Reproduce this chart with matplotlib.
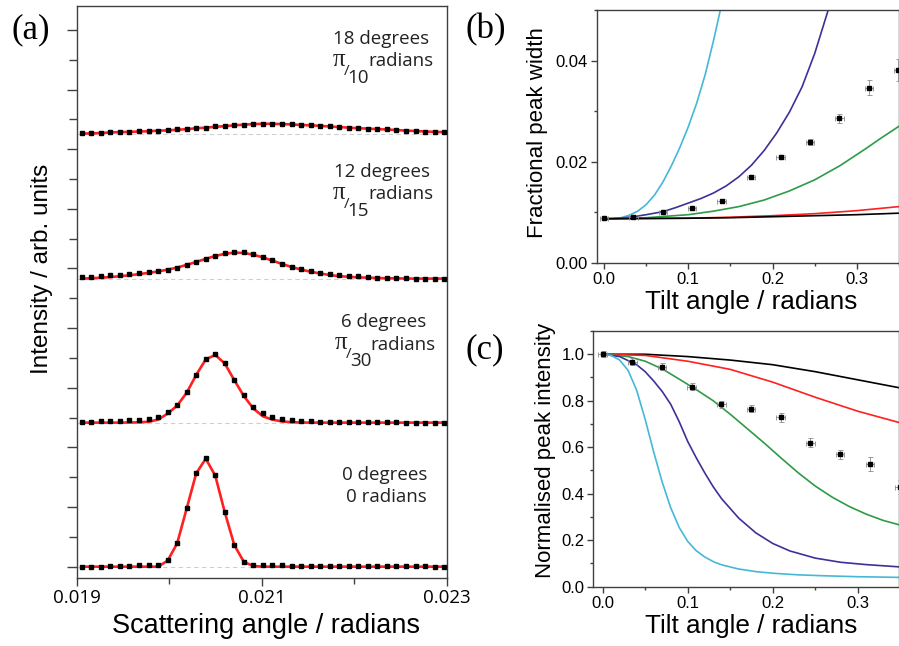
import numpy as np
import matplotlib
matplotlib.use("Agg")
import matplotlib.pyplot as plt
from matplotlib.ticker import MultipleLocator

plt.rcParams['font.family'] = ['Liberation Sans', 'DejaVu Sans']

W, H = 899, 646

# ---- panel (a): peak profiles, scattering angle in radians ----
theta = np.linspace(0.019055, 0.022969, 39)
offsets = [0.0, 4.83, 9.66, 14.51]

deg0_pts = [0.0, 0.0, 0.0, 0.01, 0.01, 0.02, 0.04, 0.05, 0.05,
            0.21, 0.79, 1.96, 3.15, 3.64, 3.06, 1.83, 0.72, 0.17, 0.06,
            0.04, 0.04, 0.04, 0.03, 0.03, 0.03, 0.03, 0.02, 0.02, 0.02,
            0.02, 0.02, 0.01, 0.01, 0.01, 0.01, 0.01, 0.01, 0.0, 0.0]
deg0_fit = [0.0, 0.0, 0.0, 0.0, 0.0, 0.0, 0.0, 0.0, 0.0,
            0.20, 0.78, 1.95, 3.13, 3.62, 3.05, 1.82, 0.72, 0.16, 0.02,
            0.0, 0.0, 0.0, 0.0, 0.0, 0.0, 0.0, 0.0, 0.0, 0.0,
            0.0, 0.0, 0.0, 0.0, 0.0, 0.0, 0.0, 0.0, 0.0, 0.0]

deg6_pts = [0.01, 0.03, 0.04, 0.05, 0.07, 0.08, 0.10, 0.12, 0.19, 0.37,
            0.59, 1.02, 1.61, 2.15, 2.29, 2.01, 1.44, 0.91, 0.53, 0.31,
            0.19, 0.11, 0.08, 0.06, 0.04, 0.03, 0.02, 0.02, 0.02, 0.01,
            0.01, 0.01, 0.01, 0.01, 0.0, 0.0, 0.0, 0.0, 0.0]
deg6_fit = [0.0, 0.0, 0.0, 0.0, 0.0, 0.005, 0.01, 0.03, 0.10, 0.30,
            0.57, 1.00, 1.60, 2.12, 2.27, 1.98, 1.42, 0.89, 0.47, 0.21,
            0.10, 0.04, 0.015, 0.005, 0.0, 0.0, 0.0, 0.0, 0.0, 0.0,
            0.0, 0.0, 0.0, 0.0, 0.0, 0.0, 0.0, 0.0, 0.0]

deg12_pts = [0.04, 0.06, 0.08, 0.11, 0.13, 0.17, 0.19, 0.21, 0.25, 0.29,
             0.37, 0.46, 0.56, 0.67, 0.77, 0.86, 0.89, 0.88, 0.83, 0.72,
             0.62, 0.48, 0.38, 0.32, 0.27, 0.19, 0.16, 0.12, 0.09, 0.07,
             0.04, 0.03, 0.02, 0.01, 0.01, 0.0, 0.0, 0.0, 0.0]
deg12_fit = [0.0, 0.01, 0.03, 0.05, 0.08, 0.11, 0.15, 0.19, 0.24, 0.30,
             0.37, 0.46, 0.56, 0.66, 0.76, 0.83, 0.87, 0.86, 0.80, 0.71,
             0.60, 0.49, 0.39, 0.30, 0.23, 0.17, 0.12, 0.08, 0.06, 0.04,
             0.03, 0.02, 0.01, 0.01, 0.0, 0.0, 0.0, 0.0, 0.0]

deg18_pts = [0.02, 0.03, 0.04, 0.06, 0.07, 0.08, 0.09, 0.10, 0.11, 0.12,
             0.15, 0.17, 0.19, 0.21, 0.25, 0.27, 0.29, 0.31, 0.34, 0.35,
             0.35, 0.34, 0.32, 0.31, 0.29, 0.27, 0.25, 0.23, 0.21, 0.20,
             0.18, 0.17, 0.15, 0.13, 0.11, 0.10, 0.08, 0.07, 0.05]
deg18_fit = [0.01, 0.02, 0.03, 0.05, 0.06, 0.07, 0.08, 0.09, 0.11, 0.12,
             0.14, 0.16, 0.19, 0.21, 0.24, 0.26, 0.29, 0.31, 0.33, 0.34,
             0.34, 0.33, 0.32, 0.30, 0.29, 0.27, 0.25, 0.23, 0.21, 0.19,
             0.18, 0.16, 0.15, 0.13, 0.11, 0.10, 0.08, 0.07, 0.06]

peaks_pts = [deg0_pts, deg6_pts, deg12_pts, deg18_pts]
peaks_fit = [deg0_fit, deg6_fit, deg12_fit, deg18_fit]

# ---- panels (b) and (c): measured points ----
tilt = [0.0, 0.0349, 0.0698, 0.1047, 0.1396, 0.1745, 0.2094, 0.2443, 0.2793, 0.3142, 0.3491]
tilt_err = [0.005] * 11
width = [0.00878, 0.0091, 0.0101, 0.01076, 0.01228, 0.0169, 0.02086, 0.02396, 0.02858, 0.03465, 0.03815]
width_err = [0.0003, 0.0003, 0.0003, 0.0003, 0.0003, 0.0004, 0.0004, 0.0006, 0.0009, 0.0015, 0.0022]
inten = [1.0, 0.967, 0.946, 0.860, 0.784, 0.766, 0.728, 0.619, 0.569, 0.527, 0.430]
inten_err = [0.012, 0.015, 0.015, 0.015, 0.015, 0.015, 0.02, 0.02, 0.02, 0.03, 0.03]

# model curves, (b) fractional peak width
cyan_b_x = [0.0035, 0.01, 0.02, 0.03, 0.04, 0.05, 0.06, 0.07, 0.08, 0.09, 0.10, 0.11, 0.12, 0.13, 0.138]
cyan_b_y = [0.0087, 0.0087, 0.0089, 0.0094, 0.0102, 0.0115, 0.0134, 0.0160, 0.0192, 0.0228, 0.0269,
            0.0316, 0.0372, 0.0440, 0.0500]
blue_b_x = [0.0035, 0.02, 0.035, 0.05, 0.07, 0.085, 0.10, 0.115, 0.13, 0.145, 0.16, 0.175, 0.19,
            0.205, 0.22, 0.235, 0.25, 0.266]
blue_b_y = [0.0087, 0.0088, 0.0091, 0.0095, 0.0101, 0.0109, 0.0118, 0.0127, 0.0138, 0.0152, 0.0170,
            0.0193, 0.0222, 0.0257, 0.0298, 0.0348, 0.0414, 0.0500]
green_b_x = [0.0035, 0.05, 0.10, 0.13, 0.16, 0.19, 0.22, 0.25, 0.28, 0.31, 0.33, 0.35]
green_b_y = [0.0087, 0.0089, 0.0095, 0.0102, 0.0111, 0.0124, 0.0142, 0.0164, 0.0192, 0.0225, 0.0248, 0.0270]
red_b_x = [0.0035, 0.10, 0.15, 0.20, 0.25, 0.30, 0.35]
red_b_y = [0.0087, 0.0088, 0.0090, 0.0093, 0.0097, 0.0103, 0.0111]
black_b_x = [0.0035, 0.10, 0.15, 0.20, 0.25, 0.30, 0.35]
black_b_y = [0.0087, 0.0088, 0.0089, 0.0091, 0.0093, 0.0095, 0.0098]

# model curves, (c) normalised peak intensity
cyan_c_x = [0.0, 0.01, 0.02, 0.03, 0.04, 0.05, 0.06, 0.07, 0.08, 0.09, 0.10, 0.11, 0.12, 0.13,
            0.14, 0.16, 0.18, 0.20, 0.23, 0.26, 0.30, 0.35]
cyan_c_y = [1.0, 0.995, 0.975, 0.93, 0.845, 0.72, 0.58, 0.45, 0.34, 0.255, 0.195, 0.155, 0.128,
            0.108, 0.094, 0.076, 0.065, 0.058, 0.051, 0.047, 0.043, 0.040]
blue_c_x = [0.0, 0.02, 0.04, 0.05, 0.06, 0.07, 0.08, 0.09, 0.10, 0.11, 0.12, 0.13, 0.14, 0.16,
            0.18, 0.20, 0.22, 0.25, 0.28, 0.31, 0.35]
blue_c_y = [1.0, 0.99, 0.955, 0.925, 0.885, 0.84, 0.785, 0.71, 0.625, 0.555, 0.49, 0.43, 0.378,
            0.295, 0.232, 0.186, 0.154, 0.123, 0.105, 0.095, 0.085]
green_c_x = [0.0, 0.03, 0.05, 0.07, 0.09, 0.11, 0.13, 0.15, 0.17, 0.19, 0.21, 0.23, 0.25, 0.27,
             0.29, 0.31, 0.33, 0.35]
green_c_y = [1.0, 0.99, 0.97, 0.937, 0.893, 0.848, 0.80, 0.742, 0.68, 0.618, 0.553, 0.49, 0.433,
             0.385, 0.345, 0.312, 0.285, 0.265]
red_c_x = [0.0, 0.05, 0.10, 0.15, 0.20, 0.25, 0.30, 0.35]
red_c_y = [1.0, 0.995, 0.97, 0.935, 0.88, 0.815, 0.755, 0.705]
black_c_x = [0.0, 0.05, 0.10, 0.15, 0.20, 0.25, 0.30, 0.35]
black_c_y = [1.0, 1.0, 0.99, 0.975, 0.955, 0.925, 0.89, 0.855]

CYAN, BLUE, GREEN, RED = '#45b8d8', '#3c3199', '#2e9b45', '#ff2020'
SPINE = '#404040'


def px_box(l, t, r, b):
    return [l / W, 1 - b / H, (r - l) / W, (b - t) / H]


def ftext(px, py, s, **kw):
    fig.text(px / W, 1 - py / H, s, **kw)


def style_axes(ax):
    for s in ax.spines.values():
        s.set_color(SPINE)
        s.set_linewidth(1.0)
    ax.tick_params(which='both', direction='out', color=SPINE, width=1.0)


fig = plt.figure(figsize=(W / 100, H / 100), dpi=100)

# (a)
ax = fig.add_axes(px_box(76.7, 6, 447, 578))
style_axes(ax)
for off, pts, fit in zip(offsets, peaks_pts, peaks_fit):
    ax.axhline(off, color='#cfcfcf', lw=0.8, ls=(0, (4, 3)), zorder=1)
    ax.plot(theta, np.array(fit) + off, color=RED, lw=1.9, zorder=2)
    ax.plot(theta, np.array(pts) + off, ls='none', marker='s', ms=3.2, color='black', zorder=3)
ax.set_xlim(0.019, 0.023)
ax.set_ylim(-0.38, 18.8)
ax.xaxis.set_minor_locator(MultipleLocator(0.001))
ax.yaxis.set_major_locator(MultipleLocator(2))
ax.yaxis.set_minor_locator(MultipleLocator(1))
ax.tick_params(axis='y', which='major', length=7.5, labelleft=False)
ax.tick_params(axis='y', which='minor', length=5.5)
ax.tick_params(axis='x', which='major', length=6, pad=2)
ax.tick_params(axis='x', which='minor', length=4.5)
ax.set_xticks([0.019, 0.021, 0.023])
ax.set_xticklabels(['0.019', '0.021', '0.023'], fontfamily='Open Sans', fontsize=13.5)

# (b)
bx = fig.add_axes(px_box(596.7, 10, 899, 262.7))
style_axes(bx)
bx.plot(cyan_b_x, cyan_b_y, color=CYAN, lw=1.2)
bx.plot(blue_b_x, blue_b_y, color=BLUE, lw=1.2)
bx.plot(green_b_x, green_b_y, color=GREEN, lw=1.2)
bx.plot(red_b_x, red_b_y, color=RED, lw=1.2)
bx.plot(black_b_x, black_b_y, color='black', lw=1.2)
bx.errorbar(tilt, width, xerr=tilt_err, yerr=width_err, fmt='s', ms=2.6, color='black',
            ecolor='#8a8a8a', elinewidth=0.6, capsize=1.8, capthick=0.6, zorder=5)
bx.set_xlim(-0.0087, 0.35)
bx.set_ylim(0, 0.05)
bx.xaxis.set_minor_locator(MultipleLocator(0.05))
bx.yaxis.set_minor_locator(MultipleLocator(0.01))
bx.set_yticks([0.0, 0.02, 0.04])
bx.set_yticklabels(['0.00', '0.02', '0.04'])
bx.set_xticks([0.0, 0.1, 0.2, 0.3])
bx.set_xticklabels(['0.0', '0.1', '0.2', '0.3'])
bx.tick_params(which='major', length=4.5, labelsize=12, pad=2)
bx.tick_params(which='minor', length=2.5)

# (c)
cx = fig.add_axes(px_box(593.3, 331, 899, 586.7))
style_axes(cx)
cx.plot(black_c_x, black_c_y, color='black', lw=1.2)
cx.plot(red_c_x, red_c_y, color=RED, lw=1.2)
cx.plot(green_c_x, green_c_y, color=GREEN, lw=1.2)
cx.plot(blue_c_x, blue_c_y, color=BLUE, lw=1.2)
cx.plot(cyan_c_x, cyan_c_y, color=CYAN, lw=1.2)
cx.errorbar(tilt, inten, xerr=tilt_err, yerr=inten_err, fmt='s', ms=2.6, color='black',
            ecolor='#8a8a8a', elinewidth=0.6, capsize=1.8, capthick=0.6, zorder=5)
cx.set_xlim(-0.011, 0.3485)
cx.set_ylim(0, 1.1)
cx.set_xticks([0.0, 0.1, 0.2, 0.3])
cx.set_xticklabels(['0.0', '0.1', '0.2', '0.3'])
cx.xaxis.set_minor_locator(MultipleLocator(0.05))
cx.set_yticks([0.0, 0.2, 0.4, 0.6, 0.8, 1.0])
cx.set_yticklabels(['0.0', '0.2', '0.4', '0.6', '0.8', '1.0'])
cx.yaxis.set_minor_locator(MultipleLocator(0.1))
cx.tick_params(which='major', length=4.5, labelsize=12, pad=2)
cx.tick_params(which='minor', length=2.5)

# axis labels
ftext(42, 268.5, 'Intensity / arb. units', rotation=90, ha='center', va='center', fontsize=17.5)
ftext(266, 626, 'Scattering angle / radians', ha='center', va='center', fontsize=19.5)
ftext(538, 133, 'Fractional peak width', rotation=90, ha='center', va='center', fontsize=16)
ftext(751.5, 302, 'Tilt angle / radians', ha='center', va='center', fontsize=18.8)
ftext(545.5, 450, 'Normalised peak intensity', rotation=90, ha='center', va='center', fontsize=16)
ftext(751, 626, 'Tilt angle / radians', ha='center', va='center', fontsize=18.8)

# panel letters
for (x, y, s) in [(31, 30, '(a)'), (486, 30, '(b)'), (485, 350, '(c)')]:
    ftext(x, y, s, ha='center', va='center', fontsize=25, fontfamily='Liberation Serif')

# annotations on (a)
ann = dict(fontfamily='Open Sans', fontsize=13.5, color='#222222')
pi_kw = dict(fontfamily='Liberation Serif', fontsize=18, color='#222222')


def tilt_label(cx_, cy_, deg, den):
    # "N degrees" on top, then pi / den radians below
    ftext(cx_, cy_, deg, ha='center', va='center', **ann)
    ftext(cx_ - 42, cy_ + 21, 'π', ha='center', va='center', **pi_kw)
    ftext(cx_ - 35, cy_ + 33, '/', ha='center', va='center', fontfamily='Open Sans',
          fontsize=11, color='#222222')
    ftext(cx_ - 23, cy_ + 39.5, den, ha='center', va='center', **ann)
    ftext(cx_ - 13.5, cy_ + 22.5, 'radians', ha='left', va='center', **ann)


tilt_label(381.5, 38.5, '18 degrees', '10')
tilt_label(381.5, 172, '12 degrees', '15')
tilt_label(383.5, 322, '6 degrees', '30')

ftext(385, 474.5, '0 degrees', ha='center', va='center', **ann)
ftext(386, 497, '0 radians', ha='center', va='center', **ann)

fig.savefig('out.png', dpi=100)
